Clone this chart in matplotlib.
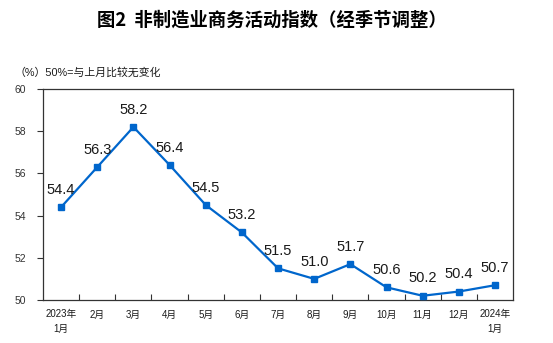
import numpy as np
import matplotlib.pyplot as plt

plt.rcParams['font.family'] = ['Liberation Sans', 'Noto Sans CJK SC', 'DejaVu Sans']

months = ['2023年\n1月', '2月', '3月', '4月', '5月', '6月', '7月', '8月',
          '9月', '10月', '11月', '12月', '2024年\n1月']
values = [54.4, 56.3, 58.2, 56.4, 54.5, 53.2, 51.5, 51.0, 51.7, 50.6, 50.2, 50.4, 50.7]
yticks = [50, 52, 54, 56, 58, 60]

fig = plt.figure(figsize=(5.53, 3.43), dpi=100)
ax = fig.add_axes([0.0778, 0.1254, 0.85, 0.6151])

x = np.arange(len(values))
ax.plot(x, values, color='#0066cc', lw=1.6, marker='s', markersize=4.2, zorder=3)
for xi, v in zip(x, values):
    ax.annotate('%.1f' % v, (xi, v), xytext=(0, 12.5), textcoords='offset points',
                ha='center', va='center', fontsize=10.5, color='#1a1a1a')

ax.set_xlim(-0.5, len(values) - 0.5)
ax.set_ylim(50, 60)
ax.set_yticks(yticks)
ax.set_yticklabels([str(t) for t in yticks], fontsize=7.5)
ax.tick_params(axis='y', direction='out', length=4, width=0.8, pad=8, colors='#333333')

# category ticks sit on the boundaries, labels in the middle
ax.set_xticks(np.arange(len(values) - 1) + 0.5)
ax.set_xticklabels([])
ax.tick_params(axis='x', direction='in', length=4, width=0.8, colors='#333333')
for xi, lab in zip(x, months):
    ax.text(xi, -0.045, lab, transform=ax.get_xaxis_transform(), ha='center', va='top',
            fontsize=7, linespacing=1.5, color='#1a1a1a')

for s in ax.spines.values():
    s.set_color('#333333')
    s.set_linewidth(0.9)

fig.text(0.492, 0.94, '图2  非制造业商务活动指数（经季节调整）', ha='center', va='center',
         fontsize=13.2, fontweight='bold', family=['Noto Sans CJK SC', 'DejaVu Sans'])
fig.text(0.026, 0.79, '（%）50%=与上月比较无变化', ha='left', va='center', fontsize=7.8,
         color='#1a1a1a')

fig.savefig('out.png', dpi=100)
